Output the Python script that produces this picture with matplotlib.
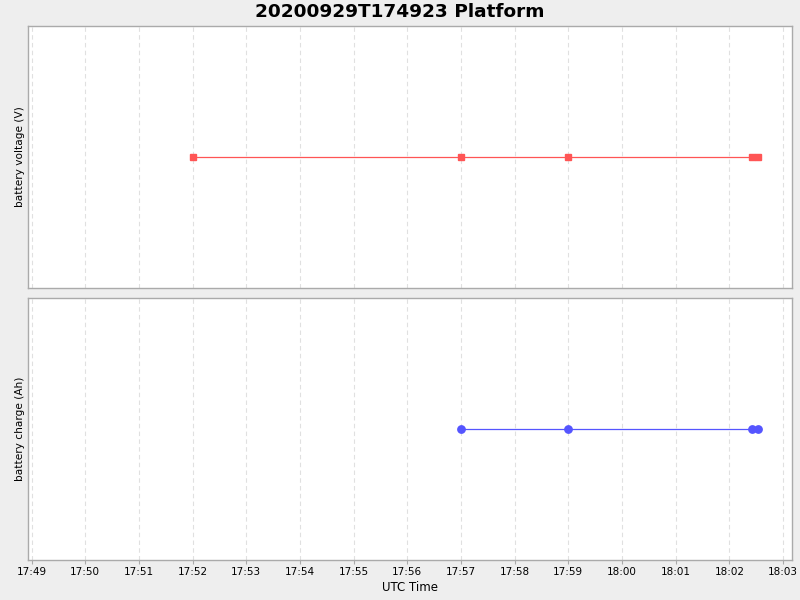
import matplotlib
matplotlib.use("Agg")
import matplotlib.pyplot as plt
import matplotlib.dates as mdates
import pandas as pd

title = "20200929T174923 Platform"
volt_times = ["2020-09-29 17:52:00", "2020-09-29 17:57:00", "2020-09-29 17:59:00",
              "2020-09-29 18:02:25", "2020-09-29 18:02:32"]
volt_values = [15.0, 15.0, 15.0, 15.0, 15.0]
charge_times = ["2020-09-29 17:57:00", "2020-09-29 17:59:00",
                "2020-09-29 18:02:25", "2020-09-29 18:02:32"]
charge_values = [100.0, 100.0, 100.0, 100.0]

vt = pd.to_datetime(volt_times)
ct = pd.to_datetime(charge_times)

fig = plt.figure(figsize=(8, 6), dpi=100)
fig.patch.set_facecolor("#EEEEEE")
W, H = 800, 600
def ax_rect(x0, y0, x1, y1):
    return [x0 / W, 1 - y1 / H, (x1 - x0) / W, (y1 - y0) / H]

ax1 = fig.add_axes(ax_rect(28, 26, 792, 288))
ax2 = fig.add_axes(ax_rect(28, 298, 792, 560), sharex=ax1)

ax1.plot(vt, volt_values, color="#FF5555", lw=0.9, marker="s", ms=5, mec="#FF5555", mfc="#FF5555")
ax2.plot(ct, charge_values, color="#5555FF", lw=0.9, marker="o", ms=5.3, mec="#5555FF", mfc="#5555FF")

xmin = pd.Timestamp("2020-09-29 17:48:56")
xmax = pd.Timestamp("2020-09-29 18:03:10")
ax1.set_xlim(xmin, xmax)

ax1.set_ylim(14.0, 16.0)
ax2.set_ylim(99.0, 101.0)

for ax in (ax1, ax2):
    ax.set_facecolor("white")
    for s in ax.spines.values():
        s.set_color("#AAAAAA")
        s.set_linewidth(1.0)
    ax.set_yticks([])
    ax.xaxis.set_major_locator(mdates.MinuteLocator(interval=1))
    ax.xaxis.set_major_formatter(mdates.DateFormatter("%H:%M"))
    ax.grid(axis="x", color="#E0E0E0", linestyle=(0, (4, 3)), linewidth=0.8)
    ax.set_axisbelow(True)
    ax.tick_params(axis="x", labelsize=7.5, length=3, color="#AAAAAA", pad=2)

ax1.tick_params(axis="x", labelbottom=False, length=0)
ax1.set_ylabel("battery voltage (V)", fontsize=7.6, labelpad=2.5)
ax2.set_ylabel("battery charge (Ah)", fontsize=7.6, labelpad=2.5)
ax2.set_xlabel("UTC Time", fontsize=8.5, labelpad=3)

fig.text(400 / W, 1 - 12 / H, title, ha="center", va="center", fontsize=13.3, fontweight="bold")

fig.savefig("out.png", dpi=100, facecolor=fig.get_facecolor())
